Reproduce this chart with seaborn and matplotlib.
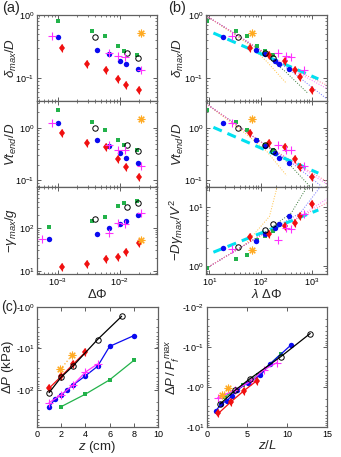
import numpy as np
import matplotlib
matplotlib.use("Agg")
import matplotlib.pyplot as plt
import matplotlib.ticker as mticker
import seaborn as sns

# ---- panel (a): x = delta phi ----
dphi_green = [1.0e-3, 3.5e-3, 5.8e-3, 9.3e-3, 1.18e-2, 1.85e-2]
dphi_blue = [1.0e-3, 4.3e-3, 6.6e-3, 1.0e-2, 1.27e-2, 1.95e-2]
dphi_red = [1.17e-3, 2.94e-3, 6.05e-3, 9.3e-3, 1.24e-2, 2.0e-2]
dphi_black = [4.0e-3, 1.3e-2, 1.95e-2]
dphi_mag = [7.9e-4, 6.6e-3, 9.3e-3, 1.2e-2, 2.2e-2]
dphi_orange = [2.2e-2]
# the acceleration panel has the first points shifted left
dphi_green_acc = [7.2e-4, 3.5e-3, 5.8e-3, 9.3e-3, 1.18e-2, 1.85e-2]
dphi_blue_acc = [7.2e-4, 4.3e-3, 6.6e-3, 1.0e-2, 1.27e-2, 1.95e-2]
dphi_mag_acc = [5.6e-4, 6.6e-3, 9.3e-3, 1.2e-2, 2.2e-2]

# delta_max / D
dmax_green = [0.80, 0.56, 0.46, 0.32, 0.27, 0.23]
dmax_blue = [0.45, 0.28, 0.243, 0.186, 0.169, 0.139]
dmax_red = [0.307, 0.169, 0.137, 0.099, 0.080, 0.066]
dmax_black = [0.45, 0.25, 0.21]
dmax_mag = [0.46, 0.255, 0.224, 0.215, 0.135]
dmax_orange = [0.52]

# V t_end / D
tend_green = [2.16, 1.32, 0.91, 0.586, 0.48, 0.376]
tend_blue = [1.23, 0.594, 0.455, 0.333, 0.271, 0.214]
tend_red = [0.81, 0.52, 0.43, 0.26, 0.184, 0.115]
tend_black = [0.99, 0.48, 0.365]
tend_mag = [1.27, 0.48, 0.376, 0.376, 0.19]
tend_orange = [1.47]

# -gamma_max / g
acc_green = [102, 143, 174, 320, 369, 417]
acc_blue = [55.5, 72.5, 97, 122, 143, 194]
acc_red = [12.4, 14.3, 18.7, 21.2, 27.7, 43.4]
acc_black = [159, 298, 380]
acc_mag = [53.7, 74, 126, 122, 223]
acc_orange = [51.8]

# ---- panel (b): x = lambda * delta phi ----
ldp_green = [9.0, 33.7, 54.5, 85.5, 122, 173]
ldp_blue = [18.8, 81.6, 125, 192, 233, 365]
ldp_red = [62.4, 149, 301, 472, 604, 1000]
ldp_black = [36.8, 125, 178]
ldp_mag = [27.4, 223, 315, 389, 716]
ldp_orange = [68]

dmaxb_red = [0.30, 0.233, 0.19, 0.136, 0.104, 0.065]

accb_green = [0.9, 1.3, 1.55, 2.8, 3.2, 3.9]
accb_blue = [2.0, 2.6, 3.5, 4.4, 5.1, 7.0]
accb_red = [3.1, 3.5, 4.7, 5.4, 7.2, 11.3]
accb_black = [2.1, 4.1, 5.1]
accb_mag = [1.9, 2.75, 4.4, 4.3, 7.8]
accb_orange = [1.85]

# model curves in (b), knots
fit_dash_x = [12, 1350]
fit_dash_top = [0.52, 0.098]
fit_dash_mid = [1.03, 0.138]
fit_dash_bot = [1.7, 9.0]

curve_names = ["orange", "green", "blue", "mag", "pink"]
curve_x_top = {"orange": [8.7, 20, 54, 132, 324], "green": [8.7, 30, 100, 300, 850],
               "blue": [8.7, 30, 100, 400, 1950], "mag": [8.7, 30, 100, 400, 1995],
               "pink": [8.7, 30, 100, 400, 1995]}
curve_y_top = {"orange": [0.97, 0.62, 0.36, 0.185, 0.083], "green": [0.97, 0.52, 0.27, 0.13, 0.058],
               "blue": [0.97, 0.52, 0.28, 0.13, 0.048], "mag": [0.97, 0.52, 0.28, 0.14, 0.069],
               "pink": [0.97, 0.52, 0.28, 0.145, 0.078]}
curve_x_mid = {"orange": [8.7, 54, 132, 324], "green": [8.7, 100, 300, 925],
               "blue": [8.7, 100, 400, 1570], "mag": [8.7, 100, 400, 1995],
               "pink": [8.7, 100, 400, 1995]}
curve_y_mid = {"orange": [2.9, 0.75, 0.36, 0.124], "green": [2.9, 0.55, 0.25, 0.077],
               "blue": [2.9, 0.55, 0.22, 0.077], "mag": [2.9, 0.55, 0.23, 0.085],
               "pink": [2.9, 0.55, 0.24, 0.095]}
curve_x_bot = {"orange": [8.7, 50, 150, 210], "green": [8.7, 100, 400, 800],
               "blue": [8.7, 100, 600, 1450], "mag": [8.7, 100, 600, 1995],
               "pink": [8.7, 100, 600, 1995]}
curve_y_bot = {"orange": [0.9, 2.3, 7, 22], "green": [0.9, 3.3, 8, 22],
               "blue": [0.9, 3.3, 8, 22], "mag": [0.9, 3.3, 7, 14],
               "pink": [0.9, 3.3, 6.8, 12]}

# ---- panel (c) ----
z_black = [1, 2, 3, 5, 7]
dp_black = [116, 49, 26, 6.1, 1.67]
z_red = [1, 2, 3, 4]
dp_red = [90.6, 47, 23.7, 12.2]
z_orange = [1.93, 2.93]
dp_orange = [32, 14.1]
z_mag = [1, 2, 3, 4, 5]
dp_mag = [202, 131, 75, 37, 23.7]
z_blue = [1, 1.5, 2, 2.5, 3, 4, 5, 6, 8]
dp_blue = [261, 161, 131, 99.5, 75, 45.6, 27, 8.9, 4.9]
z_green = [2, 4, 6, 8]
dp_green = [252, 126, 57, 19.4]

zl_blue = [1.13, 1.8, 2.47, 3.1, 3.78, 5.1, 6.67, 7.85, 10.5]
pn_blue = [3.9, 2.6, 2.2, 1.66, 1.19, 0.78, 0.51, 0.27, 0.089]
zl_black = [1.64, 3.53, 5.33, 9.23, 12.9]
pn_black = [2.66, 1.2, 0.63, 0.174, 0.046]
zl_red = [1.42, 2.94, 4.57, 6.25]
pn_red = [4.57, 2.4, 1.26, 0.69]
zl_green = [2.2, 4.5, 6.4, 9.2]
pn_green = [1.75, 0.9, 0.5, 0.15]
zl_mag = [1.34, 3.53, 5.54, 7.1, 8.77]
pn_mag = [1.86, 1.19, 0.71, 0.37, 0.245]
zl_orange = [1.9, 2.6]
pn_orange = [1.6, 1.05]

C = {"green": "#22b24a", "blue": "#0a0af0", "red": "#f01010", "black": "k",
     "mag": "#ff30ff", "orange": "#ffaa22"}
thin = {"orange": "#ffc040", "green": "#3a7a3a", "blue": "#7070ff",
        "mag": "#ff70ff", "pink": "#ff7090"}
STAR = (8, 2, 0)

sns.set_style("ticks")
plt.rcParams["font.family"] = ["Liberation Sans", "DejaVu Sans"]
plt.rcParams["mathtext.fontset"] = "custom"
plt.rcParams["mathtext.rm"] = "Liberation Sans"
plt.rcParams["mathtext.it"] = "Liberation Sans:italic"
plt.rcParams["mathtext.bf"] = "Liberation Sans:bold"


def style_ax(ax):
    for s in ax.spines.values():
        s.set_color("#606060")
        s.set_linewidth(0.9)
    ax.tick_params(which="both", direction="in", top=True, right=True,
                   labelsize=6.5, colors="#444444", labelcolor="k", pad=2)
    ax.tick_params(which="major", length=3, width=0.6)
    ax.tick_params(which="minor", length=1.6, width=0.5)


def pts(ax, x, y, key, line=False):
    ls = "-" if line else "none"
    if key == "orange" and line:
        ls = ":"
    col = C[key]
    kw = dict(color=col, linestyle=ls, linewidth=0.9, markeredgecolor=col)
    if key == "green":
        kw.update(marker="s", markersize=3.1, markeredgewidth=0)
    elif key == "blue":
        kw.update(marker="o", markersize=3.9, markeredgewidth=0)
    elif key == "red":
        kw.update(marker="d", markersize=4.3, markeredgewidth=0)
    elif key == "black":
        kw.update(marker="o", markersize=3.9, markerfacecolor="none",
                  markeredgewidth=0.7)
    elif key == "mag":
        kw.update(marker="+", markersize=6, markeredgewidth=0.8)
    elif key == "orange":
        kw.update(marker=STAR, markersize=5.5, markeredgewidth=0.8)
    sns.lineplot(x=x, y=y, ax=ax, estimator=None, sort=False, legend=False, **kw)
    if key == "red":
        sns.lineplot(x=x, y=y, ax=ax, estimator=None, sort=False, legend=False,
                     color=col, linestyle="none", marker="|", markersize=5.8,
                     markeredgewidth=0.8, markeredgecolor=col)


def log_setup(ax, ylim, xlim):
    ax.set_xscale("log")
    ax.set_yscale("log")
    ax.set_xlim(*xlim)
    ax.set_ylim(*ylim)
    for a in (ax.xaxis, ax.yaxis):
        a.set_major_locator(mticker.LogLocator(base=10, numticks=10))
        a.set_minor_locator(mticker.LogLocator(base=10, subs=np.arange(2, 10), numticks=10))
        a.set_minor_formatter(mticker.NullFormatter())


W, H = 341, 457
fig = plt.figure(figsize=(W / 100, H / 100), dpi=100)


def add_ax(x0, y0, x1, y1):
    return fig.add_axes([x0 / W, 1 - y1 / H, (x1 - x0) / W, (y1 - y0) / H])


rows = [(15, 101), (101, 187), (187, 274)]
xa = (37, 157)
xb = (206, 327)
axA = [add_ax(xa[0], r[0], xa[1], r[1]) for r in rows]
axB = [add_ax(xb[0], r[0], xb[1], r[1]) for r in rows]
axC1 = add_ax(37, 307, 158, 427)
axC2 = add_ax(207, 307, 327, 427)

xlim_a = (4.6e-4, 0.0395)
xlim_b = (8.6, 1995)
ylims = [(0.044, 1.0), (0.075, 3.27), (8.4, 884)]
ylims_b = [(0.044, 1.0), (0.075, 3.27), (0.72, 22.3)]

# (a)
groups_a = [
    [(dphi_green, dmax_green, "green"), (dphi_blue, dmax_blue, "blue"), (dphi_red, dmax_red, "red"),
     (dphi_black, dmax_black, "black"), (dphi_mag, dmax_mag, "mag"), (dphi_orange, dmax_orange, "orange")],
    [(dphi_green, tend_green, "green"), (dphi_blue, tend_blue, "blue"), (dphi_red, tend_red, "red"),
     (dphi_black, tend_black, "black"), (dphi_mag, tend_mag, "mag"), (dphi_orange, tend_orange, "orange")],
    [(dphi_green_acc, acc_green, "green"), (dphi_blue_acc, acc_blue, "blue"), (dphi_red, acc_red, "red"),
     (dphi_black, acc_black, "black"), (dphi_mag_acc, acc_mag, "mag"), (dphi_orange, acc_orange, "orange")],
]
for ax, grp, yl in zip(axA, groups_a, ylims):
    for x, y, k in grp:
        pts(ax, x, y, k)
    log_setup(ax, yl, xlim_a)
    style_ax(ax)
for ax in axA[:2]:
    ax.set_xticklabels([])
axA[2].set_xlabel(r"$\Delta\it{\Phi}$", fontsize=9.5, labelpad=0)
ylab_a = [r"$\delta_{max}/D$", r"$Vt_{end}/D$", r"$-\gamma_{max}/g$"]
for ax, t in zip(axA, ylab_a):
    ax.set_ylabel(t, fontsize=9.5)
    ax.yaxis.set_label_coords(-0.15, 0.5)

# (b)
curves_b = [(curve_x_top, curve_y_top, fit_dash_top),
            (curve_x_mid, curve_y_mid, fit_dash_mid),
            (curve_x_bot, curve_y_bot, fit_dash_bot)]
groups_b = [
    [(ldp_green, dmax_green, "green"), (ldp_blue, dmax_blue, "blue"), (ldp_red, dmaxb_red, "red"),
     (ldp_black, dmax_black, "black"), (ldp_mag, dmax_mag, "mag"), (ldp_orange, dmax_orange, "orange")],
    [(ldp_green, tend_green, "green"), (ldp_blue, tend_blue, "blue"), (ldp_red, tend_red, "red"),
     (ldp_black, tend_black, "black"), (ldp_mag, tend_mag, "mag"), (ldp_orange, tend_orange, "orange")],
    [(ldp_green, accb_green, "green"), (ldp_blue, accb_blue, "blue"), (ldp_red, accb_red, "red"),
     (ldp_black, accb_black, "black"), (ldp_mag, accb_mag, "mag"), (ldp_orange, accb_orange, "orange")],
]
for ax, grp, yl, (cx, cy, dash) in zip(axB, groups_b, ylims_b, curves_b):
    for name in curve_names:
        sns.lineplot(x=cx[name], y=cy[name], ax=ax, estimator=None, sort=False, legend=False,
                     color=thin[name], linewidth=0.7, linestyle=":")
    sns.lineplot(x=fit_dash_x, y=dash, ax=ax, estimator=None, sort=False, legend=False,
                 color="#00e0f0", linewidth=2.2, linestyle=(0, (3, 2)))
    for x, y, k in grp:
        pts(ax, x, y, k)
    log_setup(ax, yl, xlim_b)
    style_ax(ax)
for ax in axB[:2]:
    ax.set_xticklabels([])
axB[2].set_xlabel(r"$\lambda\ \Delta\it{\Phi}$", fontsize=9.5, labelpad=0)
ylab_b = [r"$\delta_{max}/D$", r"$Vt_{end}/D$", r"$-D\gamma_{max}/V^2$"]
for ax, t in zip(axB, ylab_b):
    ax.set_ylabel(t, fontsize=9.5)
    ax.yaxis.set_label_coords(-0.165, 0.5)

# (c)
neg_fmt = mticker.FuncFormatter(lambda v, _: r"-10$^{%d}$" % int(round(np.log10(v))))
for x, y, k in [(z_green, dp_green, "green"), (z_blue, dp_blue, "blue"), (z_mag, dp_mag, "mag"),
                (z_red, dp_red, "red"), (z_black, dp_black, "black"), (z_orange, dp_orange, "orange")]:
    pts(axC1, x, y, k, line=True)
axC1.set_yscale("log")
axC1.set_ylim(780, 1.0)
axC1.set_xlim(0, 10)
axC1.set_xticks([0, 2, 4, 6, 8, 10])
axC1.yaxis.set_major_locator(mticker.LogLocator(base=10, numticks=10))
axC1.yaxis.set_major_formatter(neg_fmt)
axC1.yaxis.set_minor_formatter(mticker.NullFormatter())
style_ax(axC1)
axC1.set_xlabel(r"$z$ (cm)", fontsize=9.5, labelpad=0)
axC1.set_ylabel(r"$\Delta P$ (kPa)", fontsize=9.5)
axC1.yaxis.set_label_coords(-0.17, 0.5)

for x, y, k in [(zl_green, pn_green, "green"), (zl_blue, pn_blue, "blue"), (zl_mag, pn_mag, "mag"),
                (zl_red, pn_red, "red"), (zl_black, pn_black, "black"), (zl_orange, pn_orange, "orange")]:
    pts(axC2, x, y, k, line=True)
axC2.set_yscale("log")
axC2.set_ylim(10, 0.01)
axC2.set_xlim(0, 15)
axC2.set_xticks([0, 5, 10, 15])
axC2.yaxis.set_major_locator(mticker.LogLocator(base=10, numticks=10))
axC2.yaxis.set_major_formatter(neg_fmt)
axC2.yaxis.set_minor_formatter(mticker.NullFormatter())
style_ax(axC2)
axC2.set_xlabel(r"$z/L$", fontsize=9.5, labelpad=0)
axC2.set_ylabel(r"$\Delta P\,/\,P_f^{\,max}$", fontsize=9.5)
axC2.yaxis.set_label_coords(-0.21, 0.5)

fig.text(2 / W, 1 - 12 / H, "(a)", fontsize=10.5, va="baseline")
fig.text(168 / W, 1 - 12 / H, "(b)", fontsize=10.5, va="baseline")
fig.text(1 / W, 1 - 311 / H, "(c)", fontsize=10, va="baseline")

fig.savefig("out.png", dpi=100)
